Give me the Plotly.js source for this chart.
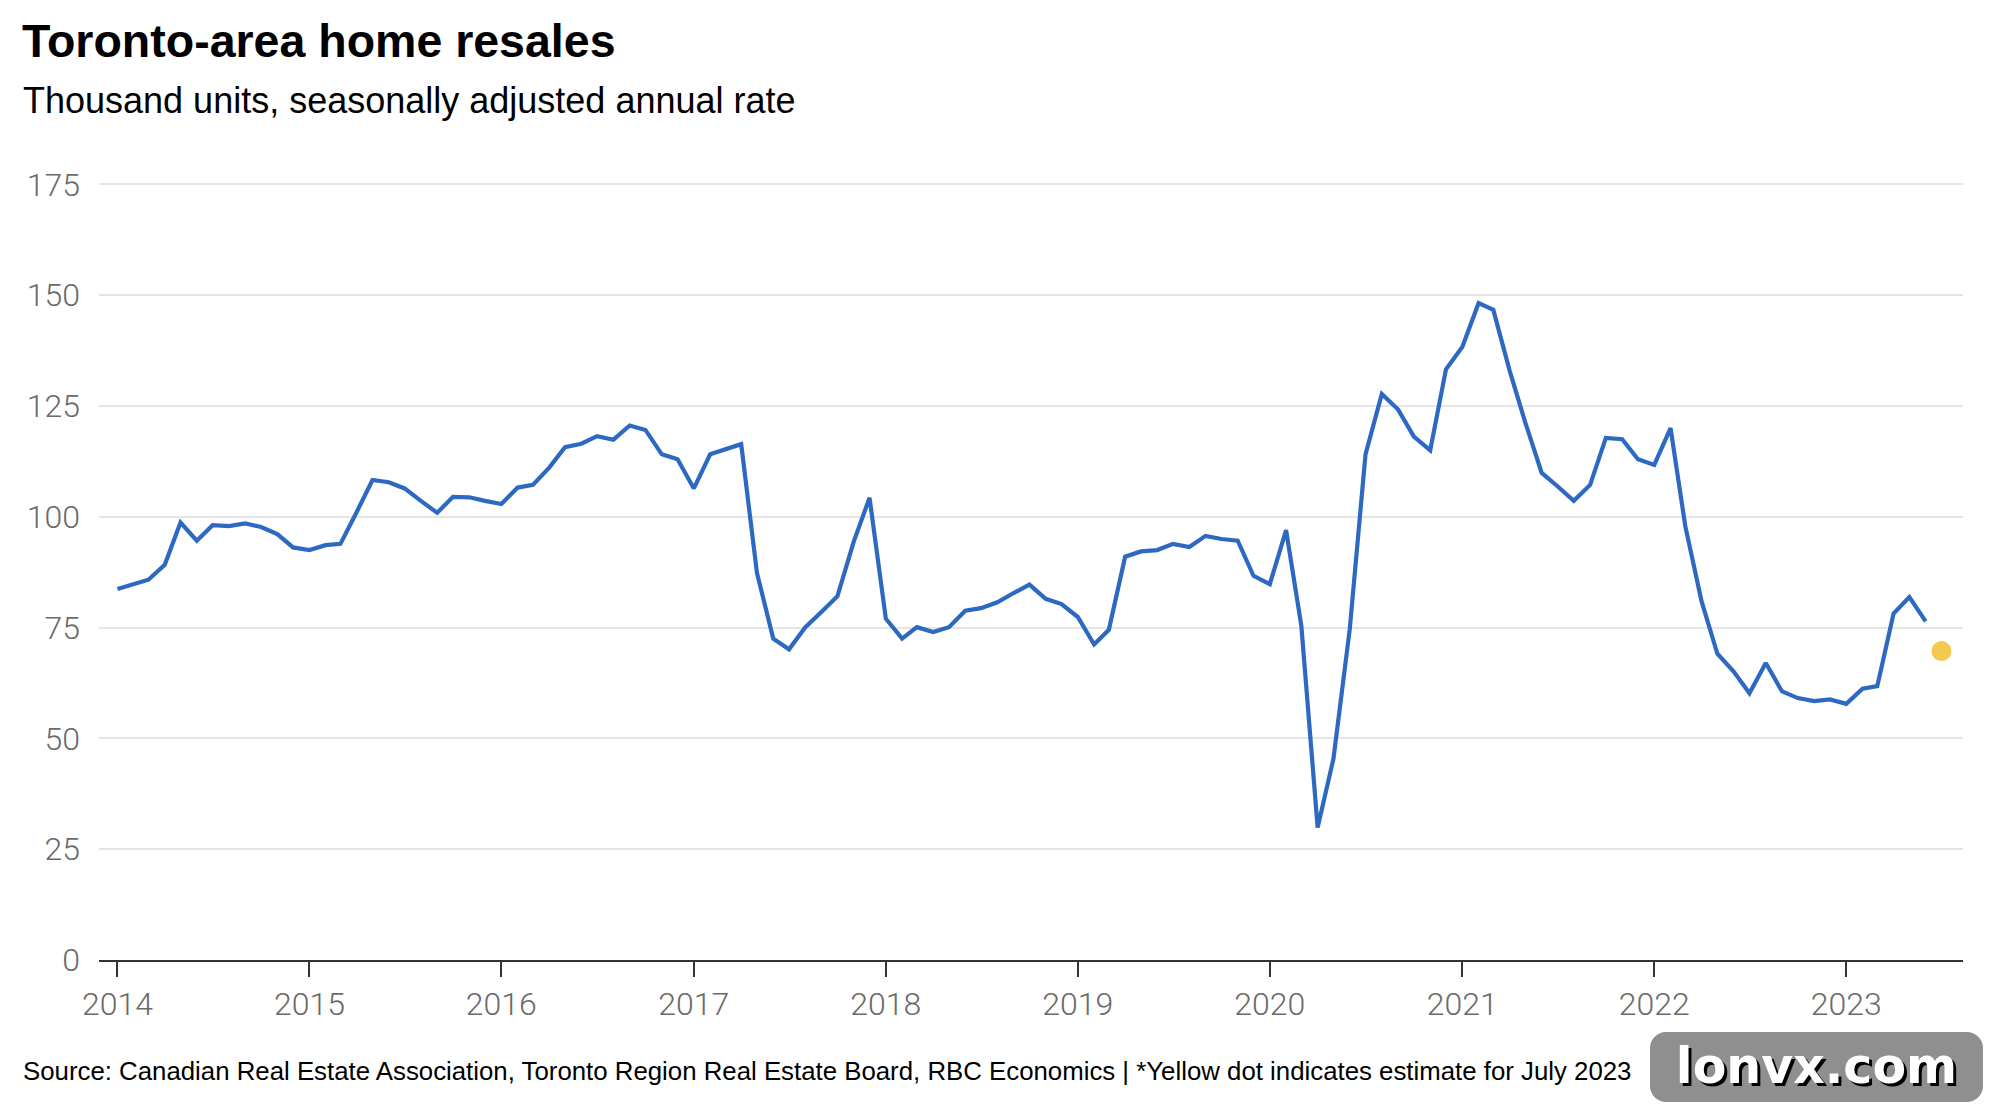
<!DOCTYPE html>
<html>
<head>
<meta charset="utf-8">
<script src="https://cdn.plot.ly/plotly-3.0.1.min.js"></script>
<style>
  html, body { margin: 0; padding: 0; background: #ffffff; }
  #chart { width: 1992px; height: 1116px; }
  #wm {
    position: absolute; left: 1650px; top: 1032px; width: 333px; height: 70px;
    background: #8f8f8f; border-radius: 16px;
    font-family: "DejaVu Sans", sans-serif; font-weight: bold; font-size: 49px;
    color: #ffffff; text-align: center; line-height: 70px;
    text-shadow: 3px 3px 0 #000000;
  }
</style>
</head>
<body>
<div id="chart"></div>
<div id="wm">lonvx.com</div>
<script>
// Monthly resales, thousand units SAAR, starting January 2014
const startYear = 2014;
const resales = [
  // 2014
  83.7, 84.7, 85.8, 89.2, 98.7, 94.6, 98.1, 97.9, 98.5, 97.7, 96.1, 93.1,
  // 2015
  92.5, 93.6, 93.9, 101.1, 108.3, 107.8, 106.4, 103.6, 100.9, 104.5, 104.4, 103.6,
  // 2016
  102.9, 106.6, 107.2, 111.1, 115.7, 116.5, 118.2, 117.4, 120.6, 119.6, 114.1, 113.0,
  // 2017
  106.4, 114.1, 115.2, 116.4, 87.3, 72.5, 70.1, 75.1, 78.6, 82.1, 94.4, 104.3,
  // 2018
  77.0, 72.5, 75.1, 74.0, 75.1, 78.8, 79.4, 80.7, 82.8, 84.7, 81.5, 80.3,
  // 2019
  77.4, 71.2, 74.5, 91.0, 92.2, 92.5, 93.9, 93.2, 95.7, 95.0, 94.6, 86.7,
  // 2020
  84.8, 97.0, 75.4, 29.9, 45.4, 74.6, 114.1, 127.7, 124.2, 118.1, 115.0, 133.3,
  // 2021
  138.3, 148.2, 146.7, 133.0, 121.2, 109.9, 106.9, 103.6, 107.2, 117.8, 117.5, 113.0,
  // 2022
  111.7, 120.0, 97.9, 80.9, 69.1, 65.1, 60.2, 67.0, 60.6, 59.1, 58.4, 58.8,
  // 2023
  57.8, 61.2, 61.8, 78.2, 81.9, 76.4
];
const estimateDates = ["2023-07-01"];
const estimateValues = [69.7];

const yTicks = [0, 25, 50, 75, 100, 125, 150, 175];

function monthDate(i) {
  const y = startYear + Math.floor(i / 12);
  const m = (i % 12) + 1;
  return y + "-" + (m < 10 ? "0" + m : m) + "-01";
}
const dates = resales.map((v, i) => monthDate(i));

const W = 1992, H = 1116;
const mL = 99, mR = 29, mT = 180, mB = 156;
const plotW = W - mL - mR, plotH = H - mT - mB;
const px = x => (x - mL) / plotW;
const py = y => (H - mB - y) / plotH;

const tickFont = { family: "Roboto, Liberation Sans, Arial, sans-serif", size: 32, color: "#6a6a6a", weight: 300 };

const traces = [
  {
    x: dates, y: resales, type: "scatter", mode: "lines",
    line: { color: "#2d69c2", width: 4.2 },
    hoverinfo: "x+y"
  },
  {
    x: estimateDates, y: estimateValues, type: "scatter", mode: "markers",
    marker: { color: "#f5c94f", size: 20, line: { width: 0 } },
    hoverinfo: "x+y"
  }
];

const layout = {
  width: W, height: H,
  margin: { l: mL, r: mR, t: mT, b: mB, pad: 0 },
  paper_bgcolor: "#ffffff", plot_bgcolor: "#ffffff",
  showlegend: false,
  font: { family: "Liberation Sans, Arial, sans-serif", color: "#000000" },
  title: {
    text: "<b>Toronto-area home resales</b>",
    font: { family: "Liberation Sans, Arial, sans-serif", size: 46.5, color: "#000000" },
    xref: "container", yref: "container",
    x: 22 / W, xanchor: "left",
    y: 1 - 41 / H, yanchor: "middle"
  },
  xaxis: {
    type: "date",
    range: ["2013-11-27", "2023-08-11"],
    dtick: "M12", tick0: "2014-01-01", tickformat: "%Y",
    ticks: "outside", ticklen: 15, tickwidth: 2, tickcolor: "#333333",
    showgrid: false, zeroline: false,
    showline: true, linecolor: "#333333", linewidth: 2,
    tickfont: tickFont,
    fixedrange: true
  },
  yaxis: {
    range: [0, 176],
    tickvals: yTicks, ticktext: yTicks.map(String),
    showgrid: true, gridcolor: "#e5e5e5", gridwidth: 2,
    zeroline: false, showline: false, ticks: "",
    ticklabelstandoff: 18,
    tickfont: tickFont,
    fixedrange: true
  },
  annotations: [
    {
      text: "Thousand units, seasonally adjusted annual rate",
      xref: "paper", yref: "paper", x: px(21), y: py(101), xanchor: "left", yanchor: "middle",
      showarrow: false,
      font: { family: "Liberation Sans, Arial, sans-serif", size: 36, color: "#000000" }
    },
    {
      text: "Source: Canadian Real Estate Association, Toronto Region Real Estate Board, RBC Economics | *Yellow dot indicates estimate for July 2023",
      xref: "paper", yref: "paper", x: px(21), y: py(1071), xanchor: "left", yanchor: "middle",
      showarrow: false,
      font: { family: "Liberation Sans, Arial, sans-serif", size: 25.8, color: "#000000" }
    }
  ]
};

Plotly.newPlot("chart", traces, layout, { displayModeBar: false, staticPlot: true });
</script>
</body>
</html>
